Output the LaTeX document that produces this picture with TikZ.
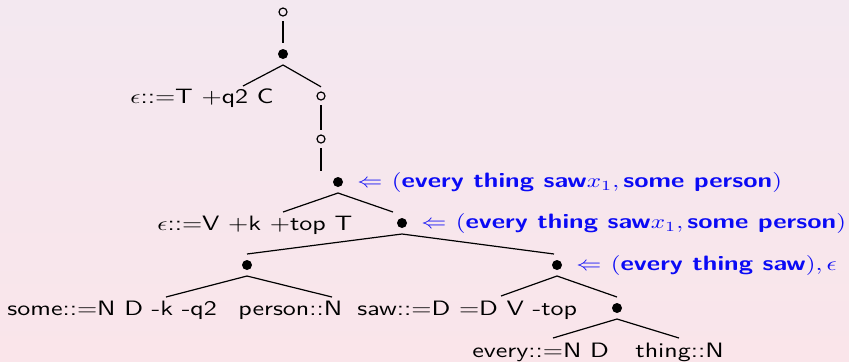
\documentclass[tikz,border=0pt]{standalone}
\usepackage{amsmath}
\usepackage{fontspec}
\usetikzlibrary{positioning,calc}
\definecolor{mgbgtop}{HTML}{F3E8F0}
\definecolor{mgbgbot}{HTML}{FAE5EA}
\definecolor{mgsem}{HTML}{0A0AF5}
% the slide's type is set wide
\newcommand{\sx}[1]{\scalebox{1.25}[1]{#1}}

\begin{document}
\begin{tikzpicture}[
  x=0.5pt, y=-0.5pt,
  hollow/.style={circle, draw, line width=0.6pt, inner sep=0pt,
                 minimum size=4pt, outer sep=2.6pt},
  fulldot/.style={circle, fill, inner sep=0pt, minimum size=5pt, outer sep=3pt},
  branch/.style={line width=0.6pt},
  lex/.style={anchor=base west, inner sep=0pt,
              font=\sffamily\fontsize{10.4}{12}\selectfont},
  sem/.style={anchor=west, inner sep=0pt, text=mgsem,
              font=\sffamily\bfseries\fontsize{10.4}{12}\selectfont},
]
  \useasboundingbox (0,0) rectangle (849,361);
  \shade[top color=mgbgtop, bottom color=mgbgbot] (0,0) rectangle (849,361);

  % derivation tree
  \node[hollow]  (o1) at (283,12)  {};
  \node[fulldot] (d1) at (283,54)  {};
  \node[hollow]  (o2) at (321,96)  {};
  \node[hollow]  (o3) at (321,139) {};
  \node[fulldot] (d2) at (338,182) {};
  \node[fulldot] (d3) at (402,223) {};
  \node[fulldot] (d4) at (247,265) {};
  \node[fulldot] (d5) at (557,265) {};
  \node[fulldot] (d6) at (617,308) {};

  % lexical items
  \node[lex] (lexC)   at (130,103) {\sx{$\epsilon$::=T +q2 C}};
  \node[lex] (lexT)   at (157,230) {\sx{$\epsilon$::=V +k +top T}};
  \node[lex] (some)   at (7,315)   {\sx{some::=N D -k -q2}};
  \node[lex] (person) at (238,315) {\sx{person::N}};
  \node[lex] (saw)    at (357,315) {\sx{saw::=D =D V -top}};
  \node[lex] (every)  at (472,357) {\sx{every::=N D}};
  \node[lex] (thing)  at (635,357) {\sx{thing::N}};

  % where the branches meet the items
  \coordinate (aC)      at (243,86);
  \coordinate (aT)      at (283,212);
  \coordinate (aSome)   at (166,297);
  \coordinate (aPerson) at (332,297);
  \coordinate (aSaw)    at (501,296);
  \coordinate (aEvery)  at (553,338);
  \coordinate (aThing)  at (679,338);

  \draw[branch] (o1) -- (d1);
  \draw[branch] (d1.south) -- (aC);
  \draw[branch] (d1.south) -- (o2.north);
  \draw[branch] (o2) -- (o3);
  \draw[branch] (o3.south) -- (o3.south |- d2.north);
  \draw[branch] (d2.south) -- (aT);
  \draw[branch] (d2.south) -- ([xshift=-4.5pt]d3.north);
  \draw[branch] (d3.south) -- (d4.north);
  \draw[branch] (d3.south) -- ([xshift=-1.5pt]d5.north);
  \draw[branch] (d4.south) -- (aSome);
  \draw[branch] (d4.south) -- (aPerson);
  \draw[branch] (d5.south) -- (aSaw);
  \draw[branch] (d5.south) -- (d6.north);
  \draw[branch] (d6.south) -- (aEvery);
  \draw[branch] (d6.south) -- (aThing);

  % semantic values
  \node[sem, right=4pt of d2] (sem2)
    {\sx{$\Leftarrow$ $(\text{every thing saw}x_1, \text{some person})$}};
  \node[sem, right=4pt of d3] (sem3)
    {\sx{$\Leftarrow$ $(\text{every thing saw}x_1, \text{some person})$}};
  \node[sem, right=4pt of d5] (sem5)
    {\sx{$\Leftarrow$ $(\text{every thing saw}), \epsilon$}};
\end{tikzpicture}
\end{document}
